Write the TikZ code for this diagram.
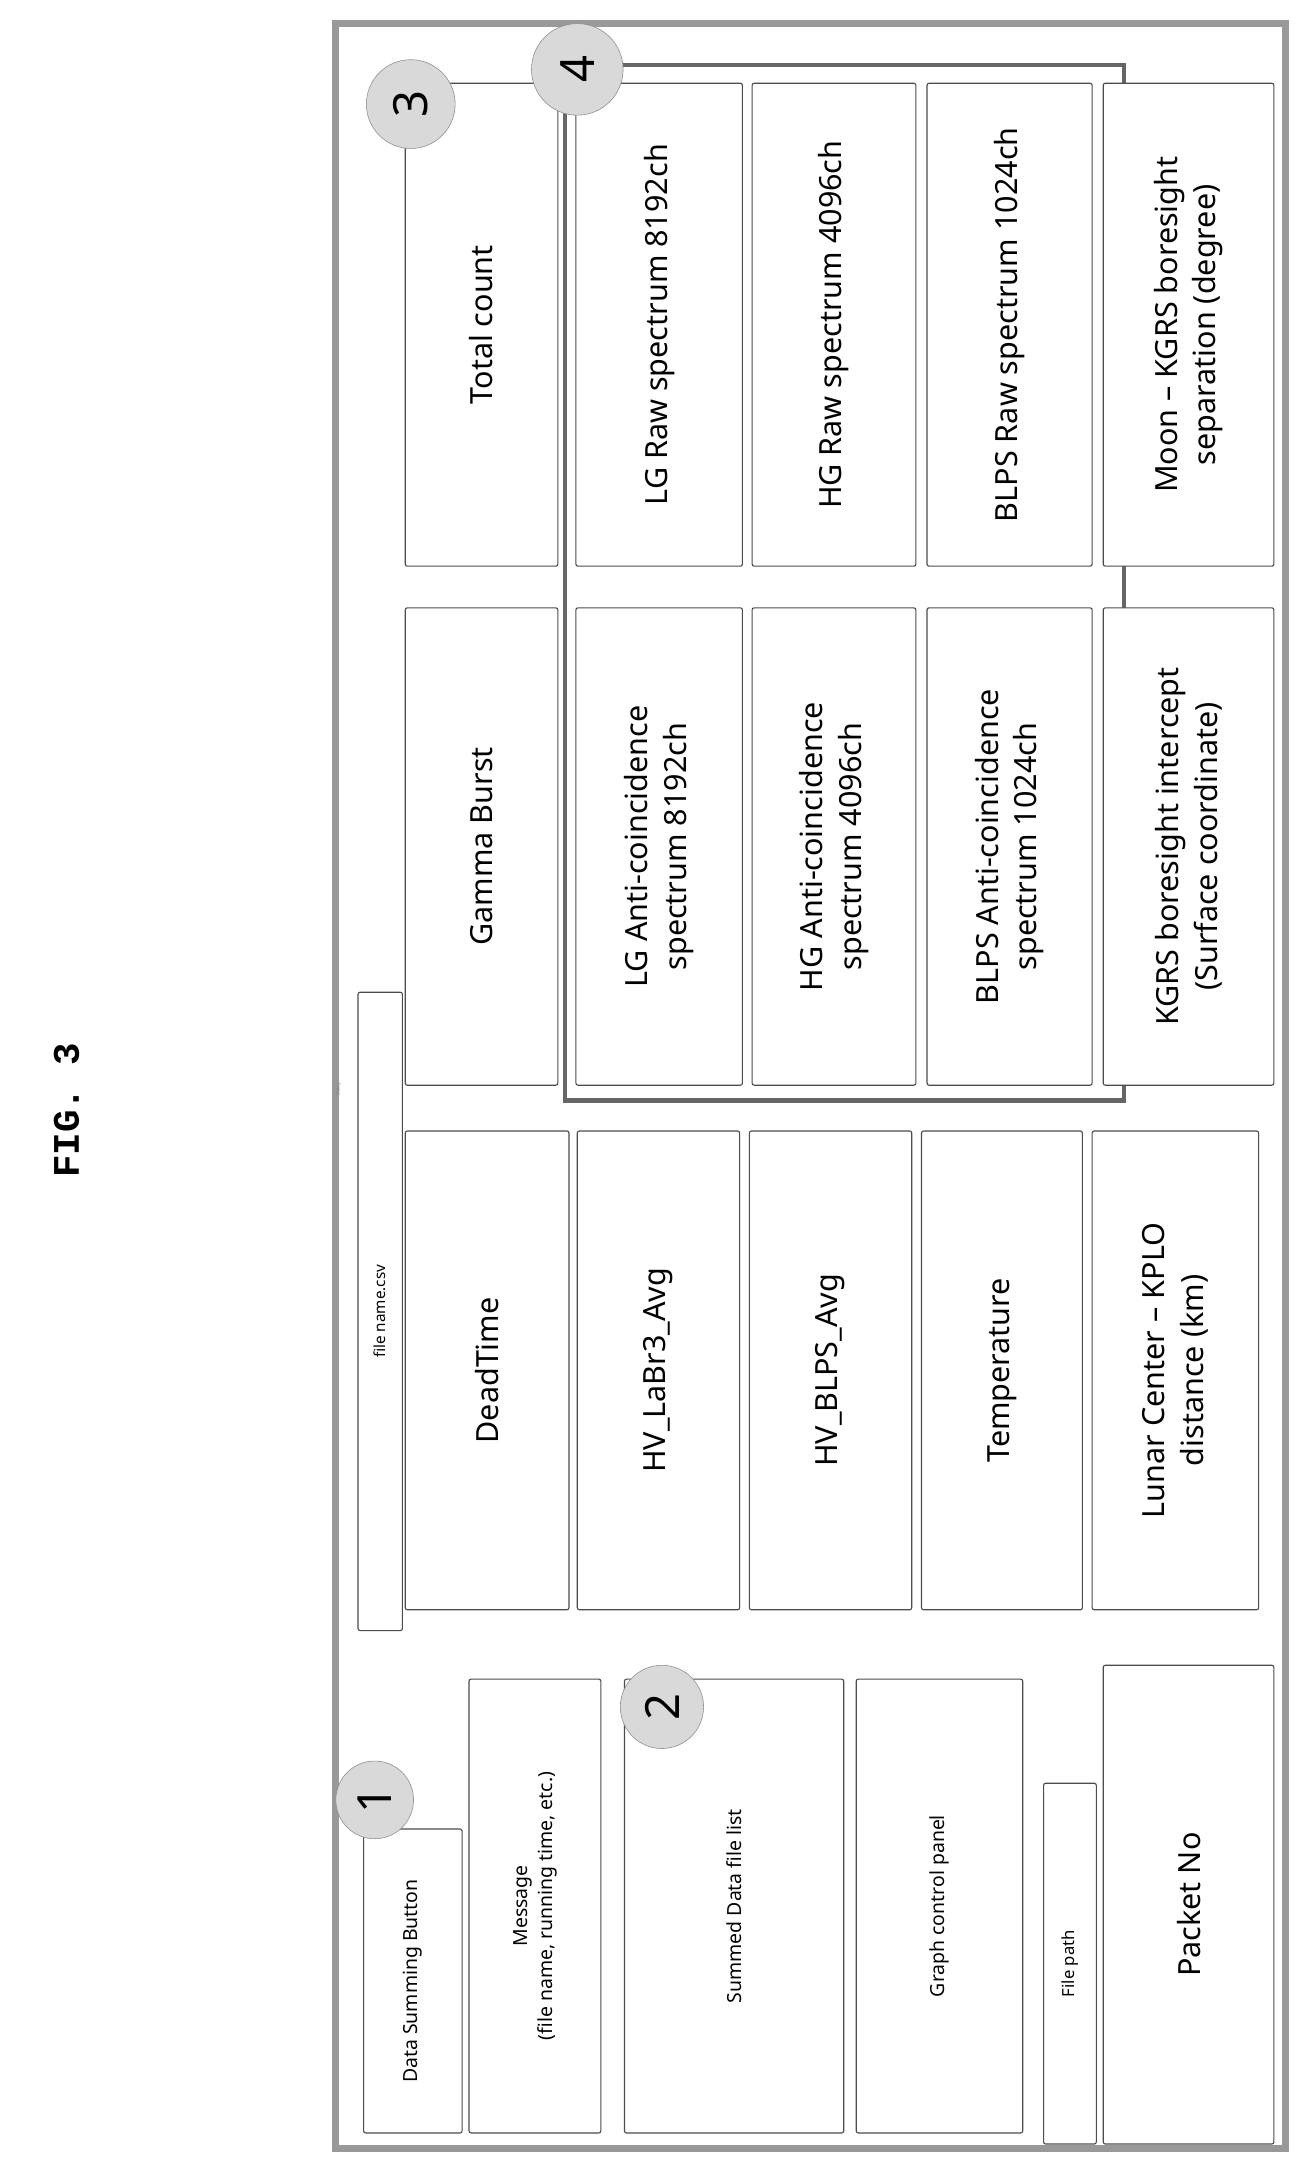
\documentclass[tikz,border=0pt]{standalone}
\usepackage{fontspec}
\setmainfont{Noto Sans}
\newfontfamily\figfont{Liberation Mono}
\usetikzlibrary{fit}
\begin{document}
\begin{tikzpicture}[x=1pt,y=-1pt,
  box/.style={draw=black!70,line width=0.8pt,rounded corners=1.5pt,inner sep=0pt,fill=white},
  lbl/.style={rotate=90,align=center,font=\fontsize{22}{28}\selectfont},
  slbl/.style={rotate=90,align=center,font=\fontsize{14}{18}\selectfont},
  num/.style={circle,draw=black!45,fill=black!15,minimum size=60pt,inner sep=0pt,font=\fontsize{34}{34}\selectfont}]
\useasboundingbox (0,0) rectangle (940,1563);
\fill[white] (0,0) rectangle (940,1563);
\node[rotate=90,font=\figfont\bfseries\fontsize{27}{27}\selectfont] (fig) at (48,800) {FIG. 3};
\node[draw=black!40,line width=5pt,fill=white,fit={(242,17)(926,1548)},inner sep=0pt] (frame) {};
\node[rotate=90,font=\fontsize{3}{3}\selectfont,text=black!50] (dlg) at (244,785) {Dialog};
% left column
\node[box,fit={(262,1318)(333,1537)}] (dsb) {};
\node[slbl] at (dsb) {Data Summing Button};
\node[box,fit={(338,1210)(433,1537)}] (msg) {};
\node[slbl] at (msg) {Message\\(file name, running time, etc.)};
\node[box,fit={(450,1210)(608,1537)}] (sdl) {};
\node[slbl] at (sdl) {Summed Data file list};
\node[box,fit={(617,1210)(737,1537)}] (gcp) {};
\node[slbl] at (gcp) {Graph control panel};
\node[box,fit={(752,1285)(790,1545)}] (fp) {};
\node[slbl,font=\fontsize{12}{14}\selectfont] at (fp) {File path};
\node[box,fit={(795,1200)(918,1545)}] (pn) {};
\node[lbl] at (pn) {Packet No};
% file name bar
\node[box,fit={(258,715)(290,1175)}] (fn) {};
\node[slbl,font=\fontsize{11}{12}\selectfont] at (fn) {file name.csv};
% group 4 frame (behind)
\node[draw=black!60,line width=3pt,fit={(407,47)(810,793)},inner sep=0pt] (grp) {};
% middle column
\node[box,fit={(292,815)(410,1160)}] (dt) {};
\node[lbl] at (dt) {DeadTime};
\node[box,fit={(416,815)(533,1160)}] (hvl) {};
\node[lbl] at (hvl) {HV\_LaBr3\_Avg};
\node[box,fit={(540,815)(657,1160)}] (hvb) {};
\node[lbl] at (hvb) {HV\_BLPS\_Avg};
\node[box,fit={(664,815)(780,1160)}] (tmp) {};
\node[lbl] at (tmp) {Temperature};
\node[box,fit={(787,815)(907,1160)}] (lc) {};
\node[lbl] at (lc) {Lunar Center -- KPLO\\distance (km)};
% right columns
\node[box,fit={(292,438)(402,782)}] (gb) {};
\node[lbl] at (gb) {Gamma Burst};
\node[box,fit={(292,60)(402,408)}] (tc) {};
\node[lbl] at (tc) {Total count};
\node[box,fit={(415,438)(535,782)}] (lga) {};
\node[lbl] at (lga) {LG Anti-coincidence\\spectrum 8192ch};
\node[box,fit={(542,438)(660,782)}] (hga) {};
\node[lbl] at (hga) {HG Anti-coincidence\\spectrum 4096ch};
\node[box,fit={(668,438)(787,782)}] (bla) {};
\node[lbl] at (bla) {BLPS Anti-coincidence\\spectrum 1024ch};
\node[box,fit={(415,60)(535,408)}] (lgr) {};
\node[lbl] at (lgr) {LG Raw spectrum 8192ch};
\node[box,fit={(542,60)(660,408)}] (hgr) {};
\node[lbl] at (hgr) {HG Raw spectrum 4096ch};
\node[box,fit={(668,60)(787,408)}] (blr) {};
\node[lbl] at (blr) {BLPS Raw spectrum 1024ch};
\node[box,fit={(795,438)(918,782)}] (kg) {};
\node[lbl] at (kg) {KGRS boresight intercept\\(Surface coordinate)};
\node[box,fit={(795,60)(918,408)}] (mn) {};
\node[lbl] at (mn) {Moon -- KGRS boresight\\separation (degree)};
% numbered circles
\node[num,minimum size=56pt] (c1) at (270,1297) {\rotatebox{90}{1}};
\node[num] (c2) at (477,1230) {\rotatebox{90}{2}};
\node[num,minimum size=64pt] (c3) at (296,75) {\rotatebox{90}{3}};
\node[num,minimum size=66pt] (c4) at (416,50) {\rotatebox{90}{4}};
\end{tikzpicture}
\end{document}
